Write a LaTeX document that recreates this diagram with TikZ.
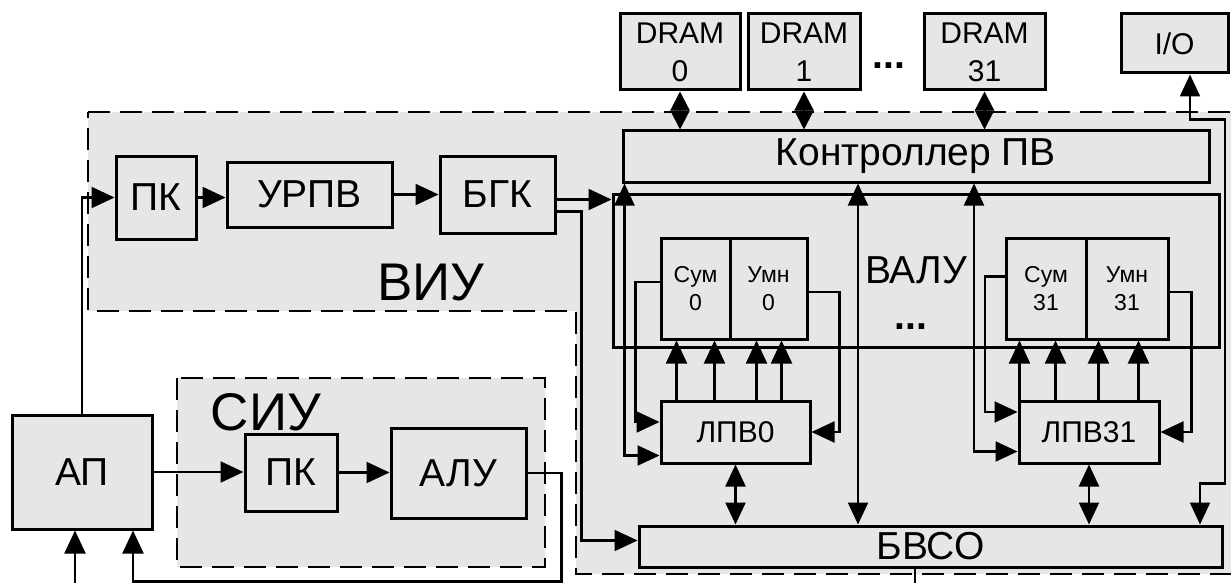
\documentclass[tikz,border=0pt]{standalone}
\usepackage{fontspec}
\setmainfont{Liberation Sans}
\usetikzlibrary{arrows.meta,calc}
\definecolor{panel}{HTML}{E6E6E6}
\tikzset{
  blk/.style={draw=black,fill=panel,line width=3pt,inner sep=0pt,align=center},
  area/.style={draw=black,fill=panel,line width=2.4pt,dash pattern=on 22pt off 10pt},
  fbig/.style={font=\fontsize{53}{60}\selectfont},
  fmed/.style={font=\fontsize{39}{44}\selectfont},
  fsml/.style={font=\fontsize{30}{38}\selectfont},
  ftiny/.style={font=\fontsize{23}{28}\selectfont},
  arr/.style={-{Triangle[length=23pt,width=21pt]},line width=2.2pt},
  biarr/.style={{Triangle[length=22pt,width=20pt]}-{Triangle[length=22pt,width=20pt]},line width=2.2pt},
  memarr/.style={{Triangle[length=19pt,width=19pt]}-{Triangle[length=19pt,width=19pt]},line width=2.2pt},
  wire/.style={line width=2.2pt}
}
\begin{document}
\begin{tikzpicture}[x=1pt,y=-1pt]
  \useasboundingbox (0,0) rectangle (1231,583);
  \draw[area] (88,112) -- (1245,112) -- (1245,574) -- (576,574) -- (576,311) -- (88,311) -- cycle;
  \draw[area] (177,378) rectangle (545,567);
  \node[fbig] (viu) at (431,283) {ВИУ};
  \node[fbig] (siu) at (266,412) {СИУ};

  \node[blk,fmed,minimum width=80,minimum height=83] (pkv) at (156,197.5) {ПК};
  \node[blk,fmed,minimum width=165,minimum height=65] (urpv) at (309.5,194.5) {УРПВ};
  \node[blk,fmed,minimum width=115,minimum height=77] (bgk) at (497.5,194.5) {БГК};
  \node[blk,fmed,minimum width=586,minimum height=51] (ctrl) at (916,156.5) {Контроллер ПВ};
  \node[blk,fmed,minimum width=606,minimum height=153] (valu) at (916,270.5) {ВАЛУ};
  \node[fmed] (dotsv) at (911,327) {\textbf{...}};
  \node[blk,ftiny,minimum width=69,minimum height=101] (sum0) at (695.5,288.5) {Сум\\0};
  \node[blk,ftiny,minimum width=77,minimum height=101] (umn0) at (768.5,288.5) {Умн\\0};
  \node[blk,ftiny,minimum width=80,minimum height=101] (sum31) at (1046,288.5) {Сум\\31};
  \node[blk,ftiny,minimum width=82,minimum height=101] (umn31) at (1127,288.5) {Умн\\31};
  \node[blk,fsml,minimum width=149,minimum height=62] (lpv0) at (735.5,432) {ЛПВ0};
  \node[blk,fsml,minimum width=140,minimum height=62] (lpv31) at (1089,432) {ЛПВ31};
  \node[blk,fmed,minimum width=583,minimum height=41] (bvso) at (930.5,546.5) {БВСО};
  \foreach \nm/\cx/\bw/\idx in {dram0/680/120/0,dram1/804/112/1,dram31/984.5/121/31}{
    \node[blk,fsml,minimum width=\bw,minimum height=76] (\nm) at (\cx,52) {DRAM\\\idx};
    \draw[memarr] (\nm.south) -- (\nm.south |- ctrl.north);
  }
  \node[fmed] (dotsd) at (889,66) {\textbf{...}};
  \node[blk,fsml,minimum width=107,minimum height=59] (io) at (1174.5,43.5) {I/O};
  \node[blk,fmed,minimum width=140,minimum height=114] (ap) at (82,472) {АП};
  \node[blk,fmed,minimum width=92,minimum height=77] (pks) at (291,472.5) {ПК};
  \node[blk,fmed,minimum width=135,minimum height=90] (alu) at (458.5,473) {АЛУ};

  \draw[arr] (ap.north) |- (pkv.west);
  \draw[arr] (pkv.east) -- (pkv.east -| urpv.west);
  \draw[arr] (urpv.east) -- (urpv.east -| bgk.west);
  \draw[arr] ($(bgk.east)+(0,5)$) coordinate (bgkout) -- (bgkout -| valu.west);
  \draw[arr] ($(bgk.east)+(0,17)$) -| ($(bvso.west)+(-56,-6)$) -- ($(bvso.west)+(0,-6)$);
  \draw[arr] (ap.east) -- (ap.east -| pks.west);
  \draw[arr] (pks.east) -- (pks.east -| alu.west);
  \draw[arr] (alu.east) -- ++(34,0) |- ($(ap.south)+(51,51)$) -- ($(ap.south)+(51,0)$);
  \coordinate (apin) at (75,583);
  \draw[arr] (apin) -- (apin |- ap.south);
  \coordinate (bvsoout) at (915,583);
  \draw[wire] (bvsoout |- bvso.south) -- (bvsoout);
  \draw[biarr] ($(io.south)+(15.5,0)$) |- ++(35,45) |- ++(-25,364) -- ($(bvso.north)+(269.5,0)$);

  \draw[biarr] ($(ctrl.south west)+(3,0)$) |- ($(lpv0.south west)+(0,-9)$);
  \draw[biarr] ($(ctrl.south)+(-58,0)$) coordinate (cb) -- (cb |- bvso.north);
  \draw[biarr] ($(ctrl.south)+(58,0)$) |- ($(lpv31.south west)+(0,-13)$);

  \draw[arr] ($(sum0.west)+(0,-6.5)$) -- ++(-24,0) |- ($(lpv0.west)+(0,-10)$);
  \draw[arr] ($(umn0.east)+(0,3.5)$) -- ++(31,0) |- (lpv0.east);
  \foreach \dx in {17,55,97,122}
    \draw[arr] ($(lpv0.north west)+(\dx,0)$) coordinate (up) -- (up |- sum0.south);
  \draw[biarr] (lpv0.south) -- (lpv0.south |- bvso.north);

  \draw[arr] ($(sum31.west)+(0,-12)$) -- ++(-19.5,0) |- ($(lpv31.west)+(0,-20)$);
  \draw[arr] ($(umn31.east)+(0,3.5)$) -- ++(22,0) |- (lpv31.east);
  \foreach \dx in {2,38,81,121}
    \draw[arr] ($(lpv31.north west)+(\dx,0)$) coordinate (up) -- (up |- sum31.south);
  \draw[biarr] (lpv31.south) -- (lpv31.south |- bvso.north);
\end{tikzpicture}
\end{document}
